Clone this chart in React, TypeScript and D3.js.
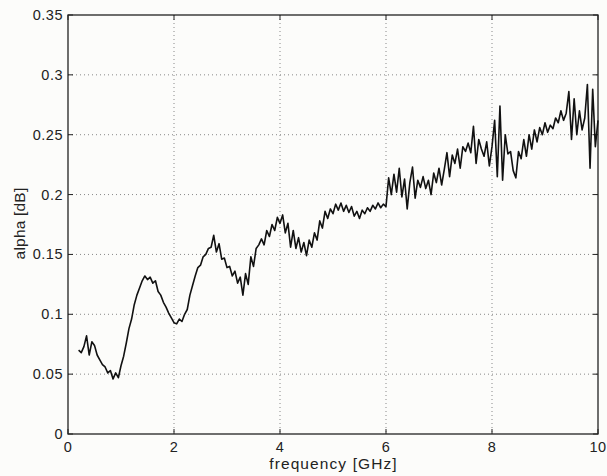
import React from "react";
import * as d3 from "d3";

const freqStart = 0.2;
const freqStep = 0.05;
const alphaValues: number[] = [
  0.070, 0.068, 0.073, 0.082, 0.066, 0.077, 0.074, 0.066, 0.062, 0.058,
  0.056, 0.051, 0.053, 0.046, 0.051, 0.047, 0.057, 0.065, 0.076, 0.088,
  0.096, 0.108, 0.116, 0.122, 0.128, 0.132, 0.129, 0.131, 0.126, 0.128,
  0.119, 0.116, 0.110, 0.106, 0.101, 0.097, 0.093, 0.092, 0.096, 0.094,
  0.100, 0.104, 0.116, 0.124, 0.132, 0.139, 0.141, 0.148, 0.150, 0.155,
  0.156, 0.166, 0.152, 0.159, 0.146, 0.147, 0.139, 0.140, 0.132, 0.136,
  0.126, 0.131, 0.116, 0.134, 0.125, 0.148, 0.140, 0.155, 0.158, 0.163,
  0.158, 0.170, 0.165, 0.175, 0.170, 0.181, 0.176, 0.183, 0.168, 0.176,
  0.156, 0.170, 0.155, 0.164, 0.152, 0.160, 0.149, 0.162, 0.156, 0.168,
  0.162, 0.178, 0.172, 0.186, 0.180, 0.188, 0.184, 0.192, 0.187, 0.193,
  0.186, 0.191, 0.185, 0.190, 0.182, 0.186, 0.180, 0.187, 0.184, 0.189,
  0.186, 0.191, 0.188, 0.193, 0.189, 0.192, 0.190, 0.214, 0.200, 0.217,
  0.202, 0.222, 0.198, 0.213, 0.188, 0.210, 0.223, 0.197, 0.212, 0.206,
  0.215, 0.205, 0.212, 0.200, 0.218, 0.210, 0.222, 0.208, 0.221, 0.235,
  0.215, 0.233, 0.226, 0.238, 0.222, 0.240, 0.236, 0.243, 0.235, 0.257,
  0.226, 0.246, 0.238, 0.232, 0.244, 0.224, 0.240, 0.262, 0.215, 0.274,
  0.212, 0.250, 0.234, 0.236, 0.220, 0.214, 0.236, 0.230, 0.246, 0.232,
  0.250, 0.238, 0.254, 0.244, 0.256, 0.250, 0.260, 0.252, 0.258, 0.255,
  0.264, 0.260, 0.270, 0.262, 0.268, 0.286, 0.246, 0.280, 0.250, 0.270,
  0.254, 0.264, 0.292, 0.222, 0.288, 0.240, 0.262,
];
const xTicks = [0, 2, 4, 6, 8, 10];
const yTicks = [0, 0.05, 0.1, 0.15, 0.2, 0.25, 0.3, 0.35];
const xLabel = "frequency [GHz]";
const yLabel = "alpha [dB]";

const W = 607;
const H = 476;
const left = 68;
const right = 598;
const top = 15;
const bottom = 434;

export default function App() {
  const x = d3.scaleLinear().domain([0, 10]).range([left, right]);
  const y = d3.scaleLinear().domain([0, 0.35]).range([bottom, top]);
  const data = alphaValues.map((v, i) => [freqStart + i * freqStep, v] as [number, number]);
  const line = d3
    .line<[number, number]>()
    .x((d) => x(d[0]))
    .y((d) => y(d[1]));
  const font = "'Liberation Sans', Arial, Helvetica, sans-serif";
  const tickLen = 5;
  return (
    <svg
      width={W}
      height={H}
      style={{ position: "absolute", left: 0, top: 0, background: "#fcfcfa" }}
      fontFamily={font}
    >
      <rect x={0} y={0} width={W} height={H} fill="#fcfcfa" />
      {/* grid */}
      {xTicks.slice(1, -1).map((t) => (
        <line key={"gx" + t} x1={x(t)} x2={x(t)} y1={top} y2={bottom} stroke="#888" strokeWidth={1} strokeDasharray="1,3" />
      ))}
      {yTicks.slice(1, -1).map((t) => (
        <line key={"gy" + t} x1={left} x2={right} y1={y(t)} y2={y(t)} stroke="#888" strokeWidth={1} strokeDasharray="1,3" />
      ))}
      {/* ticks */}
      {xTicks.map((t) => (
        <g key={"tx" + t}>
          <line x1={x(t)} x2={x(t)} y1={bottom} y2={bottom - tickLen} stroke="#222" />
          <line x1={x(t)} x2={x(t)} y1={top} y2={top + tickLen} stroke="#222" />
          <text x={x(t)} y={452} textAnchor="middle" fontSize={14.5} letterSpacing={0.5} fill="#222">
            {d3.format("~g")(t)}
          </text>
        </g>
      ))}
      {yTicks.map((t) => (
        <g key={"ty" + t}>
          <line x1={left} x2={left + tickLen} y1={y(t)} y2={y(t)} stroke="#222" />
          <line x1={right} x2={right - tickLen} y1={y(t)} y2={y(t)} stroke="#222" />
          <text x={63} y={y(t) + 5} textAnchor="end" fontSize={14.5} letterSpacing={0.5} fill="#222">
            {d3.format("~g")(t)}
          </text>
        </g>
      ))}
      {/* frame */}
      <rect x={left} y={top} width={right - left} height={bottom - top} fill="none" stroke="#222" strokeWidth={1.3} />
      {/* data */}
      <path d={line(data) || ""} fill="none" stroke="#111" strokeWidth={1.6} strokeLinejoin="round" />
      {/* labels */}
      <text x={(left + right) / 2 + 0.5} y={469} textAnchor="middle" fontSize={15.5} letterSpacing={1.1} fill="#222">
        {xLabel}
      </text>
      <text
        transform={`translate(25, ${(top + bottom) / 2 - 1}) rotate(-90)`}
        textAnchor="middle"
        fontSize={15.5}
        letterSpacing={0.2}
        fill="#222"
      >
        {yLabel}
      </text>
    </svg>
  );
}
